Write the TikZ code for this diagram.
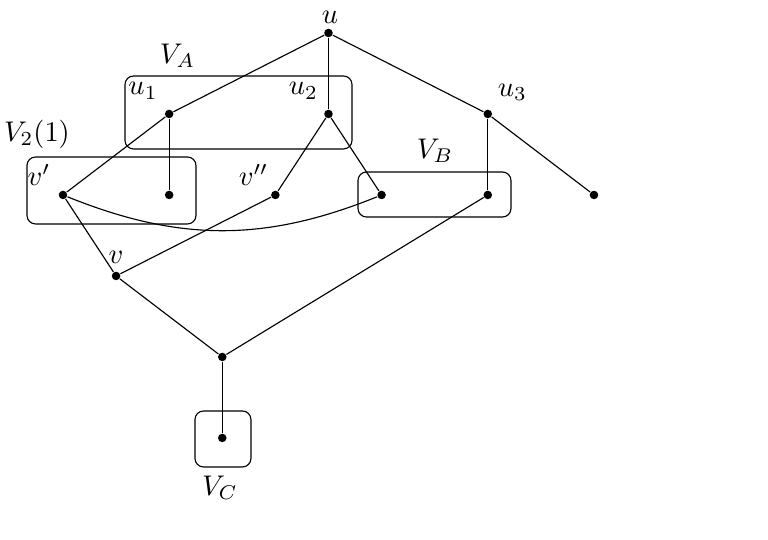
\documentclass[tikz,border=0pt]{standalone}
\usetikzlibrary{positioning}
\begin{document}
\begin{tikzpicture}[x=0.6556cm,y=1cm,
  pt/.style={circle,fill,inner sep=0pt,minimum size=3pt},
  grp/.style={rounded corners=3pt}]
    \useasboundingbox (-1.186,0.407) rectangle (13.277,-6.259);
    % vertices
    \node[pt] (u) at (5,0) {};
    \node[pt] (ua) at (2,-1) {};
    \node[pt] (ub) at (5,-1) {};
    \node[pt] (uc) at (8,-1) {};
    \node[pt] (vp) at (0,-2) {};
    \node[pt] (x1) at (2,-2) {};
    \node[pt] (vpp) at (4,-2) {};
    \node[pt] (b1) at (6,-2) {};
    \node[pt] (b2) at (8,-2) {};
    \node[pt] (leaf) at (10,-2) {};
    \node[pt] (v) at (1,-3) {};
    \node[pt] (w) at (3,-4) {};
    \node[pt] (c) at (3,-5) {};
    % groups
    \draw[grp] (1.168,-0.531) rectangle (5.443,-1.432);
    \draw[grp] (-0.678,-1.531) rectangle (2.505,-2.358);
    \draw[grp] (5.556,-1.716) rectangle (8.437,-2.272);
    \draw[grp] (2.486,-4.667) rectangle (3.540,-5.358);
    % edges
    \draw (u) -- (ua);
    \draw (u) -- (ub);
    \draw (u) -- (uc);
    \draw (ua) -- (vp);
    \draw (ua) -- (x1);
    \draw (ub) -- (vpp);
    \draw (ub) -- (b1);
    \draw (uc) -- (b2);
    \draw (uc) -- (leaf);
    \draw (vp) -- (v);
    \draw (vpp) -- (v);
    \draw (vp) to[bend right=22] (b1);
    \draw (v) -- (w);
    \draw (b2) -- (w);
    \draw (w) -- (c);
    % labels
    \node (lu) at (5.03,0.198) {$u$};
    \node (lua) at (1.507,-0.716) {$u_1$};
    \node (lub) at (4.529,-0.716) {$u_2$};
    \node (luc) at (8.465,-0.735) {$u_3$};
    \node (lva) at (2.157,-0.284) {$V_A$};
    \node (lvtwo) at (-0.49,-1.247) {$V_2(1)$};
    \node (lvp) at (-0.452,-1.753) {$v'$};
    \node (lvpp) at (3.588,-1.753) {$v''$};
    \node (lvb) at (7.006,-1.451) {$V_B$};
    \node (lv) at (0.998,-2.772) {$v$};
    \node (lvc) at (2.957,-5.611) {$V_C$};
    \node (cap) at (12.975,-6.47) {(a)};
\end{tikzpicture}
\end{document}
